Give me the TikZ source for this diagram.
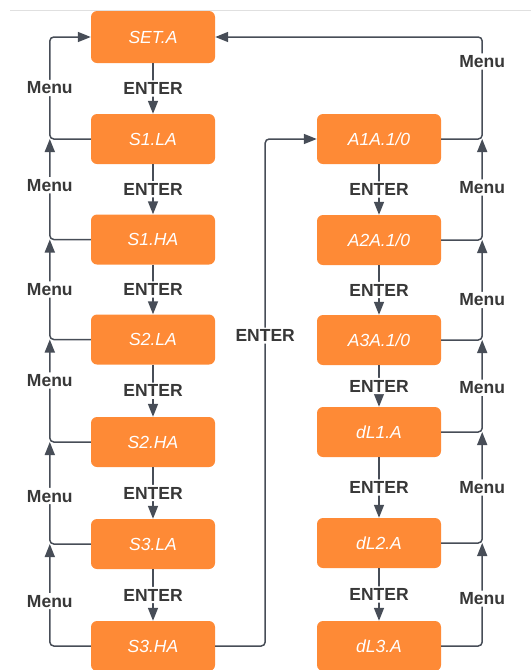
\documentclass[tikz,border=0pt]{standalone}
\usepackage{fontspec}
\setmainfont{Liberation Sans}
\usetikzlibrary{arrows.meta}
\definecolor{boxorange}{HTML}{FE8A36}
\definecolor{linegray}{HTML}{474D57}
\definecolor{txtgray}{HTML}{383838}

\begin{document}
\begin{tikzpicture}[x=1pt,y=-1pt,
		box/.style={fill=boxorange, rounded corners=6pt, minimum width=124pt, minimum height=50pt, text=white, font=\fontsize{17.5}{20}\selectfont\itshape},
		conn/.style={draw=linegray, line width=1.5pt, rounded corners=4pt, -{Triangle[length=13pt,width=10pt]}},
		lbl/.style={fill=white, text=txtgray, inner sep=2pt, font=\fontsize{17.5}{20}\selectfont\bfseries}]
		
				\clip (0,0) rectangle (531,670);
				\draw [black!12, line width=1pt] (10,10) -- (531,10);
		
				\node [box, minimum height=52pt] (l0) at (153,37){SET.A};
				\node [box] (l1) at (153,139){S1.LA};
				\node [box] (l2) at (153,239.5){S1.HA};
				\node [box] (l3) at (153,339.5){S2.LA};
				\node [box] (l4) at (153,442){S2.HA};
				\node [box] (l5) at (153,544){S3.LA};
				\node [box] (l6) at (153,646){S3.HA};
			
				\node [box] (r1) at (379,139){A1A.1/0};
				\node [box] (r2) at (379,240){A2A.1/0};
				\node [box] (r3) at (379,340){A3A.1/0};
				\node [box] (r4) at (379,432){dL1.A};
				\node [box] (r5) at (379,543){dL2.A};
				\node [box] (r6) at (379,646){dL3.A};
			
				\draw [conn] (l0) -- node[lbl]{ENTER} (l1);
				\draw [conn] (l1) -- node[lbl]{ENTER} (l2);
				\draw [conn] (l2) -- node[lbl]{ENTER} (l3);
				\draw [conn] (l3) -- node[lbl]{ENTER} (l4);
				\draw [conn] (l4) -- node[lbl]{ENTER} (l5);
				\draw [conn] (l5) -- node[lbl]{ENTER} (l6);
				\draw [conn] (r1) -- node[lbl]{ENTER} (r2);
				\draw [conn] (r2) -- node[lbl]{ENTER} (r3);
				\draw [conn] (r3) -- node[lbl]{ENTER} (r4);
				\draw [conn] (r4) -- node[lbl]{ENTER} (r5);
				\draw [conn] (r5) -- node[lbl]{ENTER} (r6);
			
				\draw [conn] (l6.east) -- ++(50,0) |- node[lbl, pos=0.306]{ENTER} (r1.west);
			
				\draw [conn] (l1.west) -- ++(-41,0) |- node[lbl, pos=0.25]{Menu} (l0.west);
				\draw [conn] (l2.west) -| node[lbl, pos=0.77]{Menu} ([xshift=-41pt]l1.west);
				\draw [conn] (l3.west) -| node[lbl, pos=0.75]{Menu} ([xshift=-41pt]l2.west);
				\draw [conn] (l4.west) -| node[lbl, pos=0.8]{Menu} ([xshift=-41pt]l3.west);
				\draw [conn] (l5.west) -| node[lbl, pos=0.735]{Menu} ([xshift=-41pt]l4.west);
				\draw [conn] (l6.west) -| node[lbl, pos=0.72]{Menu} ([xshift=-41pt]l5.west);
			
				\draw [conn] (r1.east) -- ++(41,0) |- node[lbl, pos=0.38]{Menu} (l0.east);
				\draw [conn] (r2.east) -| node[lbl, pos=0.76]{Menu} ([xshift=41pt]r1.east);
				\draw [conn] (r3.east) -| node[lbl, pos=0.7]{Menu} ([xshift=41pt]r2.east);
				\draw [conn] (r4.east) -| node[lbl, pos=0.74]{Menu} ([xshift=41pt]r3.east);
				\draw [conn] (r5.east) -| node[lbl, pos=0.75]{Menu} ([xshift=41pt]r4.east);
				\draw [conn] (r6.east) -| node[lbl, pos=0.73]{Menu} ([xshift=41pt]r5.east);
		
			\end{tikzpicture}
\end{document}
